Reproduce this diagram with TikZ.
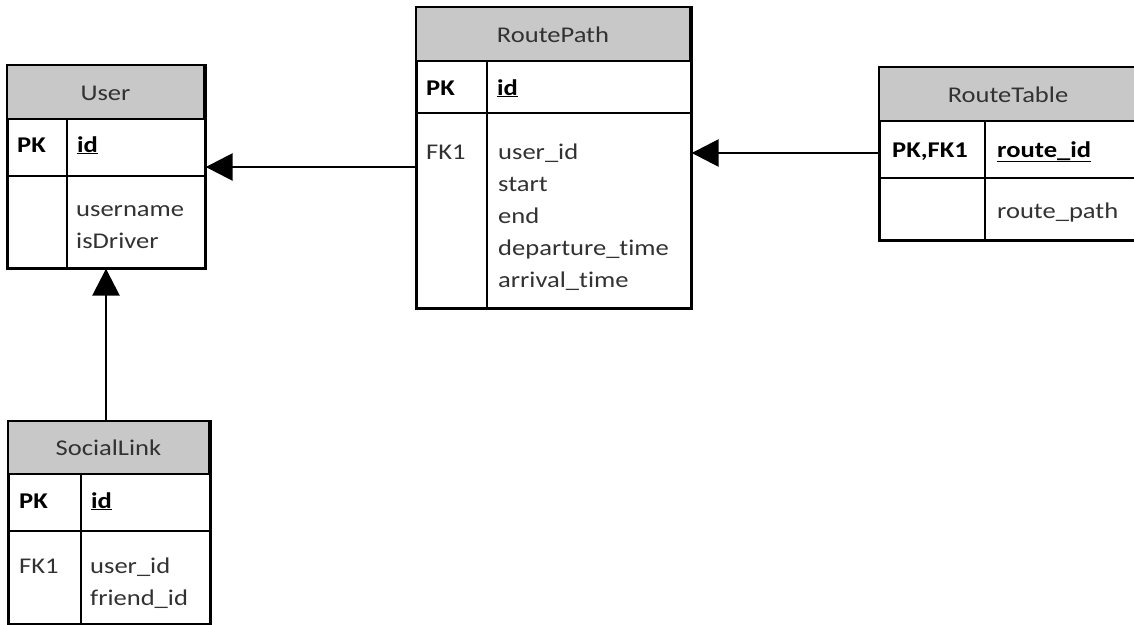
\documentclass[tikz,border=0pt]{standalone}
\usepackage{fontspec}
\setmainfont{Carlito}[FakeStretch=1.18, Ligatures=NoCommon]
\usetikzlibrary{arrows.meta}
\definecolor{hdr}{RGB}{200,200,200}
\definecolor{ink}{RGB}{50,50,50}
\begin{document}
\begin{tikzpicture}[x=1pt,y=-1pt,
  frame/.style={draw=black, line width=1.7pt, inner sep=0pt, anchor=north west},
  header/.style={fill=hdr, draw=black, line width=1.7pt},
  rowline/.style={draw=black, line width=1.7pt},
  txt/.style={inner sep=0pt, font=\fontsize{22.5}{32}\selectfont},
  title/.style={txt, anchor=base, text=ink},
  key/.style={txt, anchor=base west, text=black, font=\fontsize{22.5}{32}\selectfont\bfseries},
  field/.style={txt, anchor=base west, text=ink},
  fk/.style={draw=black, line width=2.8pt, -{Triangle[length=27pt,width=27pt]}}
]
\useasboundingbox (0,0) rectangle (1134,624);
\clip (0,0) rectangle (1134,624);

% ---------- User ----------
\node[frame, minimum width=197pt, minimum height=202pt] (user) at (7,65) {};
\draw[header] (7,65) rectangle (204,119);
\draw[rowline] (7,176) -- (204,176);
\draw[rowline] (67,119) -- (67,267);
\draw[rowline] (user.north west) rectangle (user.south east);
\node[title] (userT) at (105.5,100) {User};
\node[key] (userPK) at (17,152) {PK};
\node[key] (userId) at (77,152) {\underline{id}};
\node[field] (userF1) at (76,216) {username};
\node[field] (userF2) at (76,248) {isDriver};

% ---------- RoutePath ----------
\node[frame, minimum width=274pt, minimum height=300pt] (path) at (416,7) {};
\draw[header] (416,7) rectangle (690,61);
\draw[rowline] (416,113) -- (690,113);
\draw[rowline] (487,61) -- (487,307);
\draw[rowline] (path.north west) rectangle (path.south east);
\node[title] (pathT) at (553,42) {RoutePath};
\node[key] (pathPK) at (426,95) {PK};
\node[key] (pathId) at (497,95) {\underline{id}};
\node[field] (pathFK) at (426,159) {FK1};
\node[field] (pathF1) at (498,159) {user\_id};
\node[field] (pathF2) at (498,191) {start};
\node[field] (pathF3) at (498,223) {end};
\node[field] (pathF4) at (498,255) {departure\_time};
\node[field] (pathF5) at (498,287) {arrival\_time};

% ---------- RouteTable ----------
\node[frame, minimum width=258pt, minimum height=172pt] (table) at (879,67) {};
\draw[header] (879,67) rectangle (1137,121);
\draw[rowline] (879,178) -- (1137,178);
\draw[rowline] (985,121) -- (985,239);
\draw[rowline] (table.north west) rectangle (table.south east);
\node[title] (tableT) at (1008,102) {RouteTable};
\node[key] (tablePK) at (892,157) {PK,FK1};
\node[key] (tableId) at (997,157) {\underline{route\_id}};
\node[field] (tableF1) at (997,218) {route\_path};

% ---------- SocialLink ----------
\node[frame, minimum width=201pt, minimum height=202pt] (link) at (8,421) {};
\draw[header] (8,421) rectangle (209,474);
\draw[rowline] (8,531) -- (209,531);
\draw[rowline] (81,474) -- (81,623);
\draw[rowline] (link.north west) rectangle (link.south east);
\node[title] (linkT) at (108.5,455) {SocialLink};
\node[key] (linkPK) at (19,508) {PK};
\node[key] (linkId) at (91,508) {\underline{id}};
\node[field] (linkFK) at (19,573) {FK1};
\node[field] (linkF1) at (90,573) {user\_id};
\node[field] (linkF2) at (90,605) {friend\_id};

% ---------- foreign keys ----------
\coordinate (lvlA) at (0,167);
\coordinate (lvlB) at (0,153);
\coordinate (colC) at (106,0);
\draw[fk] (path.west |- lvlA) -- (user.east |- lvlA);
\draw[fk] (table.west |- lvlB) -- (path.east |- lvlB);
\draw[fk] (link.north -| colC) -- (user.south -| colC);
\end{tikzpicture}
\end{document}
